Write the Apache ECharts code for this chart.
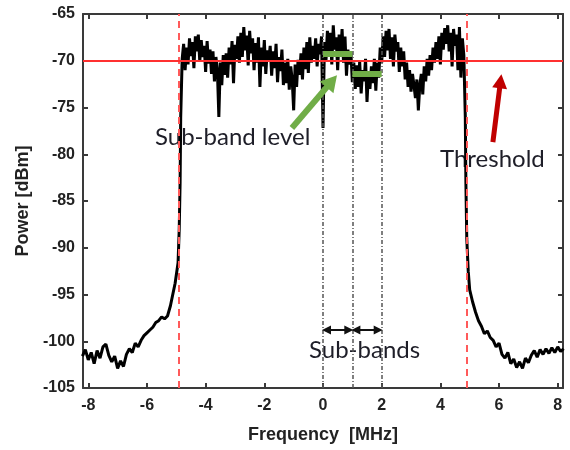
<!DOCTYPE html>
<html>
<head>
<meta charset="utf-8">
<script src="https://cdn.jsdelivr.net/npm/echarts@6/dist/echarts.min.js"></script>
<style>
  html, body { margin: 0; padding: 0; background: #fff; }
  #chart { width: 570px; height: 450px; }
</style>
</head>
<body>
<div id="chart"></div>
<script>
// tick positions
const freqTicks = [-8, -6, -4, -2, 0, 2, 4, 6, 8];

// measured trace, [MHz, dBm]
const leftSkirt = [
  [-8.2, -101.6], [-8.1, -100.9], [-8.0, -102.0], [-7.9, -101.2], [-7.8, -102.4],
  [-7.7, -101.0], [-7.6, -101.8], [-7.5, -100.6], [-7.4, -100.3], [-7.3, -101.5],
  [-7.2, -102.2], [-7.1, -101.6], [-7.0, -102.9], [-6.9, -102.1], [-6.8, -102.7],
  [-6.7, -101.4], [-6.6, -100.8], [-6.5, -101.2], [-6.4, -100.2], [-6.3, -100.6],
  [-6.2, -99.9], [-6.1, -99.4], [-6.0, -99.1], [-5.9, -98.8], [-5.8, -98.5],
  [-5.7, -98.0], [-5.6, -97.8], [-5.5, -97.4], [-5.4, -97.6], [-5.3, -97.3],
  [-5.2, -96.2], [-5.14, -95.3], [-5.04, -93.8], [-4.94, -91.6], [-4.9, -88.0],
  [-4.87, -83.0], [-4.85, -76.0]
];

// passband samples every 0.05 MHz from -4.8 to 4.8
const passStart = -4.8;
const passStep = 0.05;
const passband = [
  -69.8, -68.2, -71.0, -68.6, -70.4, -67.6, -69.5, -68.0, -70.8, -67.4,
  -69.0, -67.2, -70.1, -67.8, -69.6, -68.4, -71.2, -67.9, -70.3, -68.8,
  -71.4, -69.0, -72.2, -69.6, -71.0, -76.0, -70.2, -72.6, -69.4, -71.5,
  -69.2, -71.8, -68.6, -70.4, -67.9, -72.4, -68.3, -69.8, -67.4, -70.2,
  -67.0, -69.6, -66.4, -68.9, -67.3, -70.5, -66.8, -69.2, -67.6, -71.0,
  -68.1, -70.2, -67.5, -72.8, -68.6, -70.6, -67.8, -71.4, -68.9, -70.0,
  -68.4, -71.6, -69.0, -70.8, -68.2, -72.3, -69.6, -71.1, -68.8, -72.6,
  -70.2, -72.4, -69.8, -73.1, -70.6, -72.0, -75.3, -70.4, -72.8, -69.9,
  -71.5, -69.2, -72.0, -68.6, -70.9, -68.0, -71.3, -67.5, -70.2, -68.4,
  -69.8, -67.6, -70.6, -68.2, -69.3, -67.4, -77.2, -68.0, -70.1, -66.8,
  -69.2, -67.0, -70.4, -66.2, -68.8, -67.5, -71.0, -67.2, -69.6, -66.6,
  -70.2, -67.4, -71.6, -68.8, -70.4, -69.0, -72.3, -70.2, -73.0, -70.5,
  -72.8, -70.1, -73.5, -71.0, -72.2, -69.8, -74.4, -71.2, -73.0, -70.6,
  -72.4, -69.8, -73.2, -70.2, -71.8, -68.6, -70.2, -67.4, -69.6, -66.8,
  -68.9, -66.6, -69.8, -67.5, -70.6, -67.2, -69.0, -68.0, -71.2, -68.6,
  -70.6, -69.0, -72.0, -70.2, -72.8, -71.0, -73.3, -71.4, -72.6, -74.0,
  -72.0, -75.3, -72.6, -71.4, -73.6, -70.6, -72.2, -69.8, -71.6, -69.4,
  -71.0, -68.6, -70.2, -68.0, -69.8, -67.4, -70.4, -67.0, -68.8, -66.5,
  -68.2, -66.2, -69.0, -67.0, -70.6, -66.6, -68.4, -67.2, -71.0, -66.4,
  -71.8, -67.6, -69.4
];

const rightSkirt = [
  [4.85, -76.0], [4.87, -83.0], [4.9, -89.0], [4.95, -92.5], [5.0, -94.5],
  [5.1, -95.8], [5.2, -96.9], [5.3, -97.8], [5.4, -98.4], [5.5, -99.2],
  [5.6, -98.9], [5.7, -99.6], [5.8, -99.9], [5.9, -100.6], [6.0, -100.2],
  [6.1, -101.4], [6.2, -101.8], [6.3, -101.2], [6.4, -102.4], [6.5, -101.9],
  [6.6, -102.8], [6.7, -102.2], [6.8, -102.9], [6.9, -101.8], [7.0, -102.3],
  [7.1, -101.5], [7.2, -101.0], [7.3, -101.7], [7.4, -100.9], [7.5, -101.4],
  [7.6, -100.8], [7.7, -101.3], [7.8, -100.7], [7.9, -101.2], [8.0, -100.6],
  [8.1, -101.1], [8.2, -100.8]
];

// annotations
const threshold = -70;
const bandEdges = [-4.9, 4.9];
const subBandEdges = [0, 1, 2];
const subBandLevels = [-69.3, -71.4];
const subBandArrowLevel = -98.8;
const levelArrow = [[-1.06, -77.2], [0.3, -72.2]];
const thresholdArrow = [[5.79, -78.7], [6.05, -72.2]];

const spectrum = leftSkirt.concat(
  passband.map((p, i) => [+(passStart + i * passStep).toFixed(2), p]),
  rightSkirt
);

const chart = echarts.init(document.getElementById("chart"));

const axisColor = "#3a3a3a";
const tickFont = { fontFamily: "Liberation Sans", fontWeight: "bold", fontSize: 16, color: "#222" };
const nameFont = { fontFamily: "Liberation Sans", fontWeight: "bold", fontSize: 18, color: "#222" };
const noteFont = "24px Lato";

const frameX = (pos, show) => ({
  type: "value",
  position: pos,
  min: -8.18,
  max: 8.18,
  axisLine: { show: true, onZero: false, lineStyle: { color: axisColor, width: 2 } },
  axisTick: { show: true, inside: true, length: 5, customValues: freqTicks, lineStyle: { color: axisColor, width: 2 } },
  axisLabel: Object.assign({ show: show, customValues: freqTicks, margin: 10 }, tickFont),
  splitLine: { show: false },
});

const frameY = (pos, show) => ({
  type: "value",
  position: pos,
  min: -105,
  max: -65,
  interval: 5,
  axisLine: { show: true, onZero: false, lineStyle: { color: axisColor, width: 2 } },
  axisTick: { show: true, inside: true, length: 5, lineStyle: { color: axisColor, width: 2 } },
  axisLabel: Object.assign({ show: show, margin: 8 }, tickFont),
  splitLine: { show: false },
});

const xBottom = frameX("bottom", true);
xBottom.name = "Frequency  [MHz]";
xBottom.nameLocation = "middle";
xBottom.nameGap = 38;
xBottom.nameTextStyle = nameFont;

const yLeft = frameY("left", true);
yLeft.name = "Power [dBm]";
yLeft.nameLocation = "middle";
yLeft.nameGap = 48;
yLeft.nameTextStyle = nameFont;

const quiet = { label: { show: false }, silent: true, animation: false };

const option = {
  animation: false,
  grid: { left: 83, right: 7, top: 14, bottom: 62 },
  xAxis: [xBottom, frameX("top", false)],
  yAxis: [yLeft, frameY("right", false)],
  series: [
    {
      name: "spectrum",
      type: "line",
      data: spectrum,
      showSymbol: false,
      lineStyle: { color: "#000", width: 3 },
      z: 2,
    },
    {
      type: "line",
      data: [],
      z: 3,
      markLine: Object.assign({
        symbol: ["none", "none"],
        lineStyle: { color: "#555", width: 1.5, type: [4, 2, 1, 2] },
        data: subBandEdges.map((x) => ({ xAxis: x })),
      }, quiet),
    },
    {
      type: "line",
      data: [],
      z: 4,
      markLine: Object.assign({
        symbol: ["none", "none"],
        lineStyle: { color: "#ff5a5a", width: 2, type: [7, 5] },
        data: bandEdges.map((x) => ({ xAxis: x })),
      }, quiet),
    },
    {
      type: "line",
      data: [],
      z: 5,
      markLine: Object.assign({
        symbol: ["none", "none"],
        lineStyle: { color: "#ff3030", width: 2, type: "solid" },
        data: [{ yAxis: threshold }],
      }, quiet),
    },
    {
      type: "line",
      data: [],
      z: 6,
      markLine: Object.assign({
        symbol: ["none", "none"],
        lineStyle: { color: "#70AD47", width: 6, type: "solid", cap: "butt" },
        data: subBandLevels.map((lv, i) => [
          { coord: [subBandEdges[i], lv] },
          { coord: [subBandEdges[i + 1], lv] },
        ]),
      }, quiet),
    },
    {
      type: "line",
      data: [],
      z: 7,
      markLine: Object.assign({
        symbol: ["none", "triangle"],
        symbolSize: [18, 16],
        lineStyle: { color: "#70AD47", width: 6, type: "solid" },
        data: [[{ coord: levelArrow[0] }, { coord: levelArrow[1] }]],
      }, quiet),
    },
    {
      type: "line",
      data: [],
      z: 7,
      markLine: Object.assign({
        symbol: ["none", "triangle"],
        symbolSize: [15, 14],
        lineStyle: { color: "#C00000", width: 5, type: "solid" },
        data: [[{ coord: thresholdArrow[0] }, { coord: thresholdArrow[1] }]],
      }, quiet),
    },
    {
      type: "line",
      data: [],
      z: 7,
      markLine: Object.assign({
        symbol: ["triangle", "triangle"],
        symbolSize: [9, 9],
        lineStyle: { color: "#111", width: 2, type: "solid" },
        data: [0, 1].map((i) => [
          { coord: [subBandEdges[i] + 0.12, subBandArrowLevel] },
          { coord: [subBandEdges[i + 1] - 0.12, subBandArrowLevel] },
        ]),
      }, quiet),
    },
  ],
  graphic: [
    { type: "text", left: 155, top: 125, style: { text: "Sub-band level", font: noteFont, fill: "#1e1e28" } },
    { type: "text", left: 440, top: 147, style: { text: "Threshold", font: noteFont, fill: "#1e1e28" } },
    { type: "text", left: 309, top: 338, style: { text: "Sub-bands", font: noteFont, fill: "#1e1e28" } },
  ],
};

chart.setOption(option);
</script>
</body>
</html>
